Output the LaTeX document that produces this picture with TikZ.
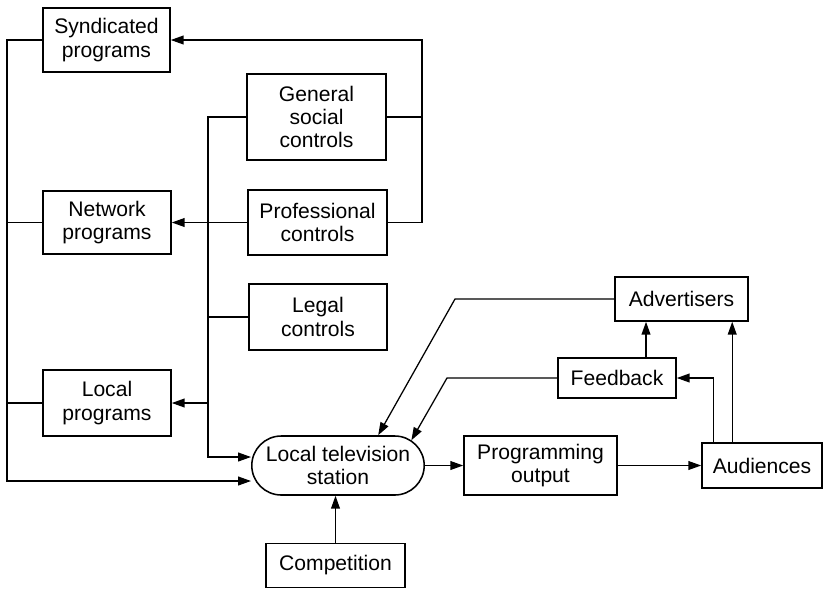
\documentclass[tikz,border=0pt]{standalone}
\usepackage{fontspec}
\setmainfont{Liberation Sans}
\usepackage{tikz}
\usetikzlibrary{shapes.misc,arrows.meta}
\tikzset{blk/.style={rectangle,draw,line width=1.1pt,align=center,inner sep=2pt,font=\fontsize{15}{16.5}\selectfont}}
\tikzset{oval/.style={rounded rectangle,draw,line width=1.1pt,align=center,inner sep=2pt,font=\fontsize{15}{16.5}\selectfont}}

\begin{document}
\begin{tikzpicture}[x=0.025cm,y=-0.025cm,line width=0.9pt,>={Triangle[length=3.2mm,width=2.2mm]}]
    \useasboundingbox (0,0) rectangle (823,588);

    \node[blk,minimum width=3.175cm,minimum height=1.6cm] (syn)at (106.5,40) {Syndicated\\programs};
    \node[blk,minimum width=3.2cm,minimum height=1.575cm] (net)at (107,222.5) {Network\\programs};
    \node[blk,minimum width=3.2cm,minimum height=1.65cm] (loc)at (107,403) {Local\\programs};
    \node[blk,minimum width=3.475cm,minimum height=2.15cm] (gsc)at (316.5,117) {General\\social\\controls};
    \node[blk,minimum width=3.475cm,minimum height=1.625cm] (prof)at (317.5,222.5) {Professional\\controls};
    \node[blk,minimum width=3.45cm,minimum height=1.65cm] (legal)at (318,317) {Legal\\controls};
    \node[oval,minimum width=4.45cm,minimum height=1.475cm] (station)at (338,465.5) {Local television\\station};
    \node[blk,minimum width=3.475cm,minimum height=1.1cm] (comp)at (335.5,565.5) {Competition};
    \node[blk,minimum width=3.825cm,minimum height=1.475cm] (prog)at (540.5,465.5) {Programming\\output};
    \node[blk,minimum width=3.0cm,minimum height=1.125cm] (aud)at (762,465.5) {Audiences};
    \node[blk,minimum width=3.325cm,minimum height=1.1cm] (adv)at (681.5,299) {Advertisers};
    \node[blk,minimum width=2.95cm,minimum height=1.0cm] (feed)at (617,378) {Feedback};

    \coordinate (lb) at (7,481);
    \coordinate (mb) at (208,457);
    \coordinate (rb) at (422,117);
    \coordinate (ak) at (455,299);
    \coordinate (fk) at (447,378);
    \coordinate (a1) at ([xshift=0.3cm]aud.north west);
    \coordinate (a2) at ([xshift=0.775cm]aud.north west);
    \coordinate (f2) at ([xshift=0.725cm]feed.north);

    % left bus
    \draw [->] (syn.west) -| (lb) -- (lb -| station.west);
    \draw [] (net.west) -- (net.west -| lb);
    \draw [] (loc.west) -- (loc.west -| lb);

    % controls bus
    \draw [->] (gsc.west) -| (mb) -- (mb -| station.west);
    \draw [->] (prof.west) -- (net.east);
    \draw [] (legal.west) -- (legal.west -| mb);
    \draw [->] (loc.east -| mb) -- (loc.east);
    \draw [] (gsc.east) -- (rb);
    \draw [->] (prof.east) -| (rb) |- (syn.east);

    % station and audiences
    \draw [->] (comp.north) -- (comp.north |- station.south);
    \draw [->] (station.east) -- (prog.west);
    \draw [->] (prog.east) -- (aud.west);
    \draw [->] (a1) |- (feed.east);
    \draw [->] (a2) -- (a2 |- adv.south);
    \draw [->] (f2) -- (f2 |- adv.south);
    \draw [->] (adv.west) -- (ak) -- (station.37);
    \draw [->] (feed.west) -- (fk) -- (station.19);
\end{tikzpicture}
\end{document}
